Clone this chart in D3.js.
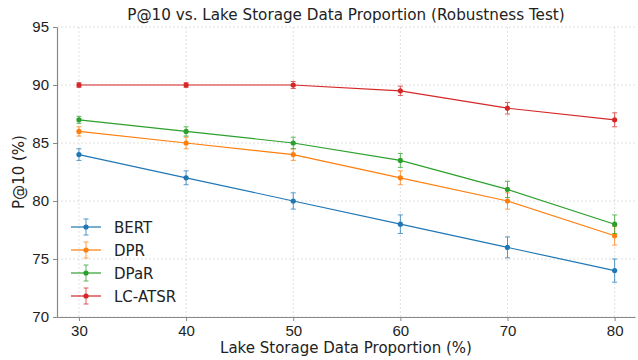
<!DOCTYPE html>
<html>
<head>
<meta charset="utf-8">
<script src="https://cdn.jsdelivr.net/npm/d3@7"></script>
<style>
  body { margin: 0; background: #fff; }
  svg { font-family: "DejaVu Sans", sans-serif; }
</style>
</head>
<body>
<svg id="chart" width="638" height="360"></svg>
<script>
// data
var proportions = [30, 40, 50, 60, 70, 80]
var seriesNames = ["BERT", "DPR", "DPaR", "LC-ATSR"]
var bertVals = [84, 82, 80, 78, 76, 74]
var bertErr = [0.5, 0.6, 0.7, 0.8, 0.9, 1.0]
var dprVals = [86, 85, 84, 82, 80, 77]
var dprErr = [0.4, 0.5, 0.5, 0.6, 0.7, 0.8]
var dparVals = [87, 86, 85, 83.5, 81, 78]
var dparErr = [0.3, 0.4, 0.5, 0.6, 0.7, 0.8]
var lcVals = [90, 90, 90, 89.5, 88, 87]
var lcErr = [0.2, 0.2, 0.3, 0.4, 0.5, 0.6]
var yTicks = [70, 75, 80, 85, 90, 95]

var colors = ["#1f77b4", "#ff7f0e", "#2ca02c", "#d62728"]

var series = [
  { name: seriesNames[0], vals: bertVals, err: bertErr },
  { name: seriesNames[1], vals: dprVals, err: dprErr },
  { name: seriesNames[2], vals: dparVals, err: dparErr },
  { name: seriesNames[3], vals: lcVals, err: lcErr }
]

var svg = d3.select("#chart")
var pLeft = 57, pRight = 635, pTop = 27, pBottom = 317

var xscale = d3.scaleLinear().domain([27.95, 81.9]).range([pLeft, pRight])
var yscale = d3.scaleLinear().domain([70, 95]).range([pBottom, pTop])

// grid
var grid = svg.append("g")
grid.selectAll(".gx").data(proportions).enter().append("line")
  .attr("x1", function (d) { return xscale(d) }).attr("x2", function (d) { return xscale(d) })
  .attr("y1", pTop).attr("y2", pBottom)
  .attr("stroke", "#d8d8d8").attr("stroke-width", 0.8).attr("stroke-dasharray", "2,2")
grid.selectAll(".gy").data(yTicks).enter().append("line")
  .attr("x1", pLeft).attr("x2", pRight)
  .attr("y1", function (d) { return yscale(d) }).attr("y2", function (d) { return yscale(d) })
  .attr("stroke", "#d8d8d8").attr("stroke-width", 0.8).attr("stroke-dasharray", "2,2")

// axes
svg.append("g")
  .attr("transform", "translate(0," + pBottom + ")")
  .call(d3.axisBottom(xscale).tickValues(proportions).tickSize(4).tickPadding(4).tickSizeOuter(0))
svg.append("g")
  .attr("transform", "translate(" + pLeft + ",0)")
  .call(d3.axisLeft(yscale).tickValues(yTicks).tickSize(4).tickPadding(4).tickSizeOuter(0))

svg.selectAll(".domain").attr("stroke", "#888").attr("stroke-width", 1.2)
svg.selectAll(".tick line").attr("stroke", "#888")
svg.selectAll(".tick text").attr("fill", "#222").style("font-size", "15px")

// labels
svg.append("text")
  .attr("x", 346).attr("y", 20)
  .attr("text-anchor", "middle")
  .style("font-size", "15.2px").attr("fill", "#222")
  .text("P@10 vs. Lake Storage Data Proportion (Robustness Test)")

svg.append("text")
  .attr("x", 346).attr("y", 353)
  .attr("text-anchor", "middle")
  .style("font-size", "15px").attr("fill", "#222")
  .text("Lake Storage Data Proportion (%)")

svg.append("text")
  .attr("transform", "translate(24," + ((pTop + pBottom) / 2) + ") rotate(-90)")
  .attr("text-anchor", "middle")
  .style("font-size", "15px").attr("fill", "#222")
  .text("P@10 (%)")

// lines, error bars, markers
var line = d3.line()
  .x(function (d, i) { return xscale(proportions[i]) })
  .y(function (d) { return yscale(d) })

series.forEach(function (s, k) {
  var g = svg.append("g")
  var pts = s.vals.map(function (v, i) { return { x: proportions[i], y: v, e: s.err[i] } })

  g.append("path")
    .datum(s.vals)
    .attr("d", line)
    .attr("fill", "none")
    .attr("stroke", colors[k])
    .attr("stroke-width", 1.2)

  var eb = g.selectAll(".eb").data(pts).enter().append("g").attr("opacity", 0.75)
  eb.append("line")
    .attr("x1", function (d) { return xscale(d.x) }).attr("x2", function (d) { return xscale(d.x) })
    .attr("y1", function (d) { return yscale(d.y - d.e) }).attr("y2", function (d) { return yscale(d.y + d.e) })
    .attr("stroke", colors[k]).attr("stroke-width", 1)
  ;[-1, 1].forEach(function (sgn) {
    eb.append("line")
      .attr("x1", function (d) { return xscale(d.x) - 2.5 }).attr("x2", function (d) { return xscale(d.x) + 2.5 })
      .attr("y1", function (d) { return yscale(d.y + sgn * d.e) }).attr("y2", function (d) { return yscale(d.y + sgn * d.e) })
      .attr("stroke", colors[k]).attr("stroke-width", 1)
  })

  g.selectAll("circle").data(pts).enter().append("circle")
    .attr("cx", function (d) { return xscale(d.x) })
    .attr("cy", function (d) { return yscale(d.y) })
    .attr("r", 2.6)
    .attr("fill", colors[k])
})

// legend
var legend = svg.append("g")
var legY = 227, legStep = 23
series.forEach(function (s, k) {
  var y = legY + k * legStep
  legend.append("line").attr("x1", 71).attr("x2", 101).attr("y1", y).attr("y2", y)
    .attr("stroke", colors[k]).attr("stroke-width", 1.2)
  legend.append("line").attr("x1", 86).attr("x2", 86).attr("y1", y - 8).attr("y2", y + 8)
    .attr("stroke", colors[k]).attr("stroke-width", 1).attr("opacity", 0.75)
  legend.append("line").attr("x1", 83.5).attr("x2", 88.5).attr("y1", y - 8).attr("y2", y - 8)
    .attr("stroke", colors[k]).attr("stroke-width", 1).attr("opacity", 0.75)
  legend.append("line").attr("x1", 83.5).attr("x2", 88.5).attr("y1", y + 8).attr("y2", y + 8)
    .attr("stroke", colors[k]).attr("stroke-width", 1).attr("opacity", 0.75)
  legend.append("circle").attr("cx", 86).attr("cy", y).attr("r", 2.6).attr("fill", colors[k])
  legend.append("text").attr("x", 114).attr("y", y + 5.5)
    .style("font-size", "15px").attr("fill", "#222")
    .text(s.name)
})
</script>
</body>
</html>
